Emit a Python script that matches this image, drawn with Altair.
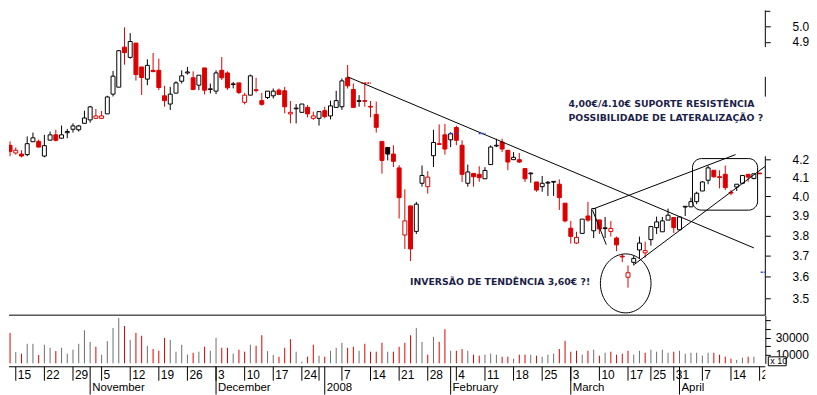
import altair as alt
import pandas as pd
import numpy as np

# ---------------- data ----------------
holidays = ["2007-12-25", "2007-12-26", "2008-01-01", "2008-03-21", "2008-03-24"]
days = [d for d in pd.bdate_range("2007-10-11", "2008-04-21") if d.strftime("%Y-%m-%d") not in holidays]

open_ = [4.207, 4.278, 4.235, 4.229, 4.226, 4.298, 4.300, 4.218, 4.307, 4.337,
         4.318, 4.349, 4.369, 4.366, 4.403, 4.423, 4.432, 4.432, 4.458, 4.575,
         4.617, 4.866, 4.801, 4.892, 4.741, 4.666, 4.720, 4.720, 4.565, 4.516,
         4.581, 4.653, 4.704, 4.674, 4.629, 4.735, 4.603, 4.593, 4.720, 4.704,
         4.633, 4.643, 4.526, 4.569, 4.601, 4.536, 4.555, 4.565, 4.599, 4.595,
         4.458, 4.488, 4.467, 4.496, 4.432, 4.432, 4.477, 4.446, 4.496, 4.500,
         4.674, 4.603, 4.532, 4.536, 4.502, 4.455, 4.300, 4.266, 4.229, 4.153,
         3.803, 3.951, 3.821, 4.070, 4.052, 4.220, 4.287, 4.337, 4.309, 4.379,
         4.278, 4.070, 4.123, 4.118, 4.094, 4.171, 4.274, 4.296, 4.250, 4.198,
         4.198, 4.149, 4.121, 4.077, 4.052, 4.071, 4.076, 4.065, 3.965, 3.837,
         3.763, 3.811, 3.899, 3.824, 3.879, 3.835, 3.821, 3.788, 3.699, 3.598,
         3.669, 3.729, 3.715, 3.780, 3.840, 3.819, 3.878, 3.891, 3.829, 3.945,
         3.946, 3.973, 4.029, 4.086, 4.140, 4.105, 4.118, 4.022, 4.050, 4.070,
         4.118, 4.096, 4.125]
high = [4.310, 4.300, 4.266, 4.250, 4.328, 4.350, 4.310, 4.337, 4.356, 4.366,
        4.390, 4.371, 4.403, 4.394, 4.477, 4.505, 4.487, 4.475, 4.565, 4.716,
        4.848, 4.994, 4.956, 4.892, 4.741, 4.789, 4.829, 4.793, 4.625, 4.619,
        4.653, 4.720, 4.741, 4.714, 4.690, 4.735, 4.639, 4.720, 4.803, 4.714,
        4.649, 4.643, 4.583, 4.694, 4.674, 4.583, 4.593, 4.609, 4.609, 4.619,
        4.534, 4.516, 4.516, 4.510, 4.471, 4.471, 4.500, 4.536, 4.595, 4.670,
        4.753, 4.639, 4.569, 4.643, 4.534, 4.530, 4.300, 4.266, 4.278, 4.168,
        4.038, 3.951, 3.972, 4.166, 4.135, 4.366, 4.397, 4.400, 4.352, 4.390,
        4.306, 4.171, 4.123, 4.162, 4.157, 4.278, 4.315, 4.315, 4.250, 4.240,
        4.235, 4.149, 4.128, 4.077, 4.109, 4.082, 4.082, 4.091, 3.965, 3.874,
        3.819, 3.883, 3.972, 3.939, 3.879, 3.894, 3.874, 3.795, 3.707, 3.654,
        3.702, 3.795, 3.770, 3.849, 3.896, 3.894, 3.937, 3.891, 3.899, 3.949,
        3.994, 4.025, 4.082, 4.166, 4.140, 4.140, 4.166, 4.034, 4.065, 4.112,
        4.118, 4.121, 4.125]
low = [4.207, 4.217, 4.226, 4.211, 4.217, 4.298, 4.266, 4.211, 4.304, 4.300,
       4.315, 4.318, 4.350, 4.356, 4.403, 4.407, 4.432, 4.432, 4.458, 4.561,
       4.617, 4.755, 4.793, 4.657, 4.570, 4.629, 4.712, 4.599, 4.500, 4.481,
       4.581, 4.639, 4.694, 4.599, 4.599, 4.573, 4.579, 4.575, 4.660, 4.601,
       4.610, 4.575, 4.514, 4.569, 4.585, 4.506, 4.546, 4.549, 4.573, 4.461,
       4.403, 4.403, 4.467, 4.438, 4.423, 4.390, 4.432, 4.426, 4.496, 4.481,
       4.609, 4.496, 4.500, 4.500, 4.438, 4.350, 4.122, 4.194, 4.157, 3.886,
       3.734, 3.675, 3.808, 4.052, 4.015, 4.158, 4.281, 4.226, 4.268, 4.278,
       4.077, 4.052, 4.052, 4.078, 4.094, 4.171, 4.268, 4.240, 4.140, 4.198,
       4.180, 4.077, 4.073, 4.025, 4.025, 4.003, 4.003, 3.930, 3.866, 3.760,
       3.759, 3.808, 3.870, 3.788, 3.808, 3.788, 3.795, 3.723, 3.670, 3.549,
       3.654, 3.686, 3.691, 3.750, 3.808, 3.819, 3.878, 3.813, 3.829, 3.899,
       3.946, 3.960, 4.029, 4.065, 4.100, 4.043, 4.034, 4.007, 4.029, 4.065,
       4.078, 4.091, 4.121]
close = [4.296, 4.244, 4.250, 4.218, 4.287, 4.320, 4.268, 4.276, 4.337, 4.306,
         4.337, 4.356, 4.388, 4.388, 4.434, 4.499, 4.446, 4.446, 4.558, 4.684,
         4.843, 4.831, 4.902, 4.694, 4.676, 4.751, 4.712, 4.615, 4.536, 4.575,
         4.643, 4.686, 4.710, 4.603, 4.690, 4.599, 4.607, 4.704, 4.674, 4.613,
         4.637, 4.585, 4.569, 4.686, 4.597, 4.514, 4.593, 4.593, 4.573, 4.500,
         4.467, 4.492, 4.516, 4.458, 4.446, 4.471, 4.442, 4.505, 4.536, 4.655,
         4.625, 4.496, 4.536, 4.532, 4.498, 4.380, 4.194, 4.229, 4.189, 3.994,
         3.874, 3.734, 3.960, 4.112, 4.103, 4.294, 4.283, 4.257, 4.343, 4.306,
         4.118, 4.131, 4.105, 4.100, 4.139, 4.268, 4.278, 4.257, 4.185, 4.211,
         4.185, 4.094, 4.125, 4.034, 4.070, 4.075, 4.080, 3.994, 3.874, 3.796,
         3.791, 3.883, 3.878, 3.937, 3.833, 3.839, 3.836, 3.754, 3.695, 3.619,
         3.688, 3.763, 3.726, 3.845, 3.869, 3.874, 3.903, 3.840, 3.894, 3.949,
         3.973, 4.017, 4.077, 4.153, 4.105, 4.101, 4.047, 4.018, 4.065, 4.112,
         4.103, 4.121, 4.121]
candle_colour = ("krrrkkrkkr" "kkkkkkrrkk" "krkrrkrrrk" "kkkrkrkkrr" "krrkrrkkrr"
                 "rkkrrkrkkk" "rrkrrrrkrr" "rrkkrkrrkr" "rkrrkkkrrk" "rrkrkkkrrr"
                 "rkrkrkrrrr" "kkrkkkkrkk" "kkkkrrrrkk" "rkr")
volume = [23900, 35400, 13100, 11200, 22700, 22700, 9600, 21600, 18100, 14200,
          18100, 11200, 15800, 22700, 38500, 25000, 19300, 10000, 25800, 41200,
          52700, 43500, 27300, 35400, 32000, 20400, 16600, 14600, 29600, 27300,
          13500, 21600, 10000, 12300, 13500, 19300, 14600, 29600, 18100, 18100,
          11200, 15800, 13500, 21600, 20400, 32700, 14200, 9600, 7700, 18100,
          28100, 13500, 2000, 7700, 21600, 8900, 7700, 14600, 18100, 23900,
          18100, 19300, 14600, 22700, 13500, 13500, 23900, 13500, 13500, 19300,
          23900, 32700, 41200, 25000, 10000, 30800, 25000, 39700, 14600, 14600,
          16600, 14600, 10000, 8900, 10000, 11200, 10000, 7700, 7700, 5400,
          10000, 10000, 10000, 8900, 7700, 10000, 11200, 16600, 26200, 13500,
          14600, 10000, 14600, 15800, 8900, 12300, 13500, 10000, 11200, 14600,
          10000, 14600, 12300, 15800, 13500, 15800, 12300, 13500, 14600, 11200,
          12300, 12300, 8900, 12300, 12300, 10000, 7700, 5400, 3900, 6500,
          7700, 7700, 0]
volume_colour = ("grgrggrggr" "ggggggrggg" "grgrrgrrrg" "gggrgrggrr" "grrgrrggrr"
                 "rggrrgrggg" "rrgrrrrgrr" "rrggrgrrgr" "rgrrgggrrg" "rrgrgggrrr"
                 "rgrgrgrrrr" "ggrggggrgg" "ggggrrrrgg" "rgg")

# price-axis tick values and visible axis-line pieces
price_ticks = [3.5, 3.6, 3.7, 3.8, 3.9, 4.0, 4.1, 4.2, 4.9, 5.0]
unlabelled_price_ticks = [5.1]
axis_top = [5.106, 4.680, 4.217]
axis_bottom = [4.866, 4.560, 3.4233]
volume_ticks = [10000, 20000, 30000, 40000, 50000]
volume_labels = [10000, 30000]

# drawn trend lines (trading-day index, price)
line_x1 = [60.0, 102.9, 110.1, 102.8]
line_y1 = [4.680, 3.935, 3.659, 3.929]
line_x2 = [131.0, 127.8, 133.0, 105.2]
line_y2 = [3.739, 4.226, 4.162, 3.755]

# small leftover dashes of earlier drawings (index from, index to, price, colour)
dash_x1 = [77.8, 79.1, 82.9, 62.4, 132.2]
dash_x2 = [78.4, 79.6, 84.1, 64.1, 132.9]
dash_p = [4.345, 4.345, 4.345, 4.643, 3.621]
dash_c = ["#1f3fe0", "#1f3fe0", "#1f3fe0", "#dd0000", "#1f3fe0"]

# annotations
note_text = ["4,00€/4.10€ SUPORTE RESISTÊNCIA", "POSSIBILIDADE DE LATERALIZAÇÃO ?",
             "INVERSÃO DE TENDÊNCIA 3,60€ ?!"]
note_x = [98.6, 98.6, 70.9]
note_y = [4.515, 4.436, 3.575]
circle_x, circle_y = [108.6], [3.569]
box_x1, box_x2, box_y1, box_y2 = [120.27], [131.65], [4.204], [3.929]

month_names = {11: "November", 12: "December", 1: "2008", 2: "February", 3: "March", 4: "April"}

# ---------------- frames ----------------
RED, BLACK, GREY = "#dd0000", "#000000", "#6e6e6e"
df = pd.DataFrame({"i": range(len(days)), "o": open_, "h": high, "l": low, "c": close,
                   "col": list(candle_colour)})
df["stroke"] = df["col"].map({"k": BLACK, "r": RED})
df["fill"] = np.where(df["c"] >= df["o"], "#ffffff", df["stroke"])

vdf = pd.DataFrame({"i": range(len(days)), "v": volume, "zero": 0,
                    "vc": [RED if c == "r" else GREY for c in volume_colour]})

weeks, months = [], []
for k in range(1, len(days)):
    d, p = days[k], days[k - 1]
    if d.weekday() < p.weekday():
        weeks.append({"i": k, "label": "" if (d.month == 12 and d.day == 31) else str(d.day)})
    if d.month != p.month:
        months.append({"i": k, "label": month_names[d.month]})
wdf, mdf = pd.DataFrame(weeks), pd.DataFrame(months)

segdf = pd.DataFrame({"top": axis_top, "bot": axis_bottom})
tdf = pd.DataFrame({"p": unlabelled_price_ticks})
ldf = pd.DataFrame({"x1": line_x1, "y1": line_y1, "x2": line_x2, "y2": line_y2})
ddf = pd.DataFrame({"x1": dash_x1, "x2": dash_x2, "p": dash_p, "c": dash_c})
ndf = pd.DataFrame({"x": note_x, "y": note_y, "t": note_text})
cdf = pd.DataFrame({"x": circle_x, "y": circle_y})
bdf = pd.DataFrame({"x1": box_x1, "x2": box_x2, "y1": box_y1, "y2": box_y2})
one = pd.DataFrame({"t": ["x 10"]})

# ---------------- layout (single view, pixel bands) ----------------
W, H = 762, 387          # whole view: page x 8..770, y 8..395
P_BOT = 307              # price band bottom (separator line)
V_BASE, V_BOT = 355.5, 359   # volume zero line, date-axis top line
xs = alt.Scale(domain=[0.815, 133.0], nice=False, zero=False, padding=0)
ys = alt.Scale(type="log", domain=[3.4233, 5.106], range=[P_BOT, 0], nice=False)
vs = alt.Scale(domain=[0, 56069], range=[V_BASE, P_BOT], nice=False, zero=False)

price_axis = alt.Axis(orient="right", values=price_ticks, format=".1f", tickSize=5,
                      tickColor=BLACK, labelPadding=22, labelFont="Liberation Sans",
                      labelFontSize=12, labelColor=BLACK, domain=False, grid=False,
                      title=None, labelFlush=False, labelOverlap=False)
vol_axis = alt.Axis(orient="right", values=volume_ticks, format="d", tickSize=5,
                    tickColor=BLACK, domain=True, domainColor=BLACK, labelPadding=5,
                    labelFont="Liberation Sans", labelFontSize=12, labelColor=BLACK,
                    grid=False, title=None, labelFlush=False, labelOverlap=False,
                    labelExpr="indexof(%s, datum.value) >= 0 ? datum.label : ''"
                              % str(volume_labels))


def X(f):
    return alt.X(f, type="quantitative", scale=xs, axis=None)


def PY(f, axis=None):
    return alt.Y(f, type="quantitative", scale=ys, axis=axis)


frame = alt.Chart(pd.DataFrame({"y": [P_BOT, V_BOT]})).mark_rule(
    color=BLACK, strokeWidth=1).encode(
    x=alt.value(0), x2=alt.value(W), y=alt.Y("y:Q", scale=None, axis=None))
wicks = alt.Chart(df).mark_rule(strokeWidth=1, clip=True).encode(
    x=X("i"), y=PY("h", price_axis), y2="l", color=alt.Color("stroke:N", scale=None))
bodies = alt.Chart(df).mark_bar(size=4, strokeWidth=1, clip=True).encode(
    x=X("i"), y=PY("o"), y2="c",
    fill=alt.Fill("fill:N", scale=None), stroke=alt.Stroke("stroke:N", scale=None))
axis_line = alt.Chart(segdf).mark_rule(color=BLACK, strokeWidth=1).encode(
    x=alt.value(W), y=PY("top"), y2="bot")
extra_ticks = alt.Chart(tdf).mark_rule(color=BLACK, strokeWidth=1).encode(
    x=alt.value(W), x2=alt.value(W + 5), y=PY("p"))
trend = alt.Chart(ldf).mark_rule(color=BLACK, strokeWidth=1, clip=True).encode(
    x=X("x1"), x2="x2", y=PY("y1"), y2="y2")
dashes = alt.Chart(ddf).mark_rule(strokeWidth=1.5, strokeDash=[2, 1]).encode(
    x=X("x1"), x2="x2", y=PY("p"), color=alt.Color("c:N", scale=None))
ellipse = alt.Chart(cdf).mark_point(
    shape="M -1 0 A 1 1.165 0 1 0 1 0 A 1 1.165 0 1 0 -1 0 Z",
    size=2601, filled=False, color=BLACK, strokeWidth=1, opacity=1).encode(
    x=X("x"), y=PY("y"))
rbox = alt.Chart(bdf).mark_rect(cornerRadius=9, fill="#ffffff", fillOpacity=0,
                                stroke=BLACK, strokeWidth=1).encode(
    x=X("x1"), x2="x2", y=PY("y1"), y2="y2")
notes = alt.Chart(ndf).mark_text(align="left", baseline="middle", font="DejaVu Sans",
                                 fontWeight="bold", fontSize=9.4, color="#1d1f4a").encode(
    x=X("x"), y=PY("y"), text="t:N")

vbars = alt.Chart(vdf).mark_rule(strokeWidth=1, clip=True).encode(
    x=X("i"), y=alt.Y("zero:Q", scale=vs, axis=vol_axis), y2="v",
    color=alt.Color("vc:N", scale=None))
xbox = alt.Chart(one).mark_rect(fill="#ffffff", stroke=BLACK, strokeWidth=1).encode(
    x=alt.value(W + 3), x2=alt.value(W + 21), y=alt.value(349), y2=alt.value(358))
xtext = alt.Chart(one).mark_text(align="left", baseline="middle", fontSize=9,
                                 font="Liberation Sans", color=BLACK).encode(
    x=alt.value(W + 5), y=alt.value(353.5), text="t:N")

week_rules = alt.Chart(wdf).mark_rule(color=BLACK, strokeWidth=1).encode(
    x=X("i"), y=alt.value(V_BOT), y2=alt.value(V_BOT + 14))
month_rules = alt.Chart(mdf).mark_rule(color=BLACK, strokeWidth=1).encode(
    x=X("i"), y=alt.value(V_BOT), y2=alt.value(H))
week_text = alt.Chart(wdf).mark_text(align="left", baseline="middle", dx=2, fontSize=12,
                                     font="Liberation Sans", color=BLACK, clip=True).encode(
    x=X("i"), y=alt.value(V_BOT + 8.7), text="label:N")
month_text = alt.Chart(mdf).mark_text(align="left", baseline="middle", dx=2, fontSize=11.5,
                                      font="Liberation Sans", color=BLACK, clip=True).encode(
    x=X("i"), y=alt.value(V_BOT + 21.5), text="label:N")

chart = alt.layer(
    frame, wicks, bodies, axis_line, extra_ticks, trend, dashes, ellipse, rbox, notes,
    vbars, xbox, xtext, week_rules, month_rules, week_text, month_text
).resolve_scale(y="independent").properties(
    width=W, height=H, padding={"left": 0, "top": 0, "right": 0, "bottom": 0}
).configure_view(stroke=None)

chart.save("out.html", embed_options={"renderer": "svg", "actions": False})
